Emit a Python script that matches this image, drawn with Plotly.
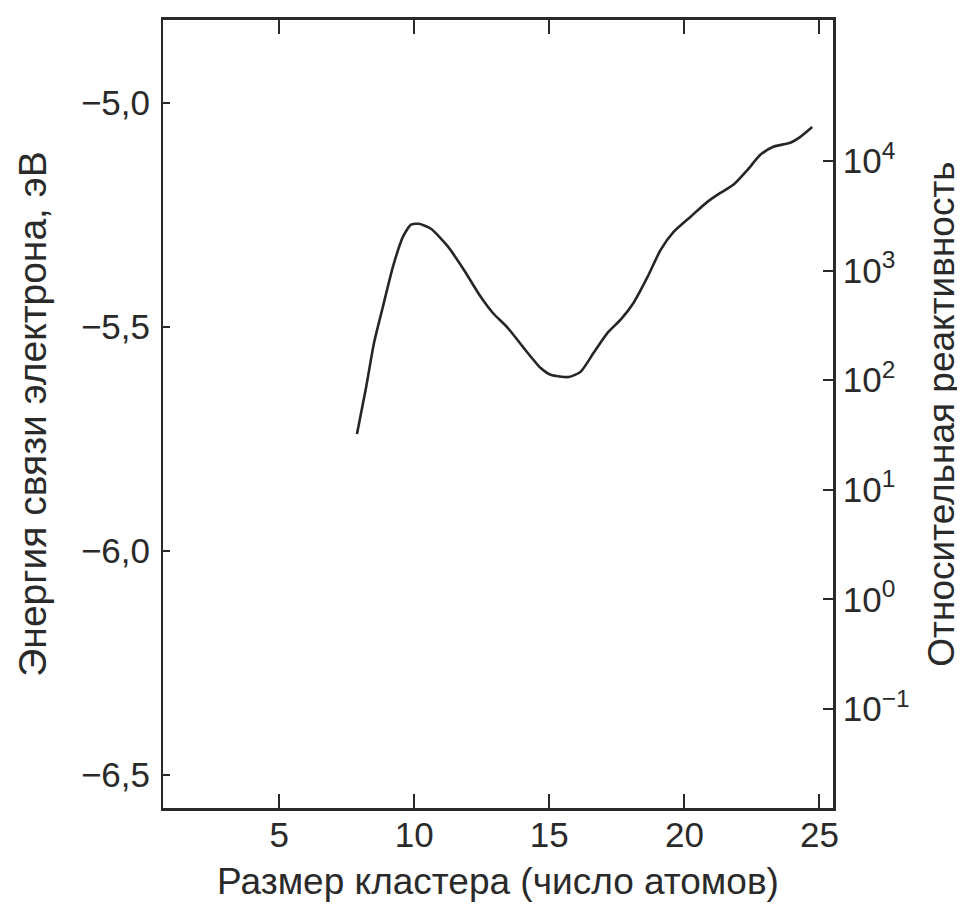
import plotly.graph_objects as go

# Cluster size (number of atoms) and electron binding energy (eV)
cluster_size = [7.88, 8.22, 8.51, 8.84, 9.21, 9.58, 9.88, 10.17, 10.62, 11.25, 11.84,
                12.46, 12.91, 13.46, 14.05, 14.68, 15.05, 15.72, 16.16, 16.64, 17.16,
                17.64, 18.12, 18.64, 19.12, 19.60, 20.23, 20.85, 21.33, 21.81, 22.33,
                22.81, 23.29, 23.92, 24.29, 24.73]
binding_energy = [-5.739, -5.634, -5.536, -5.455, -5.366, -5.299, -5.272, -5.270, -5.281,
                  -5.321, -5.373, -5.433, -5.469, -5.502, -5.547, -5.592, -5.607, -5.612,
                  -5.600, -5.558, -5.513, -5.484, -5.446, -5.388, -5.328, -5.288, -5.254,
                  -5.221, -5.201, -5.183, -5.150, -5.116, -5.098, -5.089, -5.076, -5.054]

x_ticks = [5, 10, 15, 20, 25]
left_ticks = [-5.0, -5.5, -6.0, -6.5]
left_ticktext = ["\u22125,0", "\u22125,5", "\u22126,0", "\u22126,5"]
right_ticks = [0.1, 1, 10, 100, 1000, 10000]
right_ticktext = ["10<sup>\u22121</sup>", "10<sup>0</sup>", "10<sup>1</sup>",
                  "10<sup>2</sup>", "10<sup>3</sup>", "10<sup>4</sup>"]

FONT = "Liberation Sans, Arial, Helvetica, sans-serif"
INK = "#2a2a2a"
TICK_SIZE = 35

fig = go.Figure()
fig.add_trace(go.Scatter(
    x=cluster_size, y=binding_energy, mode="lines",
    line=dict(color="#262626", width=2.6, shape="spline", smoothing=0.6),
    showlegend=False, hoverinfo="skip"))
# empty trace so that the right-hand (log) reactivity axis is drawn
fig.add_trace(go.Scatter(x=[], y=[], yaxis="y2", mode="lines",
                         showlegend=False, hoverinfo="skip"))

fig.update_layout(
    width=965, height=914,
    margin=dict(l=155, r=140, t=12, b=114),
    paper_bgcolor="white", plot_bgcolor="white",
    font=dict(family=FONT, color=INK, size=TICK_SIZE),
    xaxis=dict(
        range=[0.7, 25.5], tickvals=x_ticks, ticktext=[str(v) for v in x_ticks],
        ticks="inside", ticklen=14, tickwidth=2, tickcolor=INK,
        showline=True, linecolor=INK, linewidth=2.5, mirror="ticks",
        showgrid=False, zeroline=False, automargin=False,
        ticklabelstandoff=-6,
        tickfont=dict(size=TICK_SIZE, color=INK),
        title=dict(text="Размер кластера (число атомов)",
                   font=dict(size=37, color=INK), standoff=16),
    ),
    yaxis=dict(
        range=[-6.574, -4.815], tickvals=left_ticks, ticktext=left_ticktext,
        ticks="inside", ticklen=7, tickwidth=1.5, tickcolor=INK,
        showline=True, linecolor=INK, linewidth=2,
        showgrid=False, zeroline=False, automargin=False,
        ticklabelstandoff=4,
        tickfont=dict(size=TICK_SIZE, color=INK),
        title=dict(text="Энергия связи электрона, эВ",
                   font=dict(size=39, color=INK), standoff=22),
    ),
    yaxis2=dict(
        type="log", overlaying="y", side="right", anchor="x",
        range=[-1.903, 5.287], tickvals=right_ticks, ticktext=right_ticktext,
        ticks="inside", ticklen=10, tickwidth=2, tickcolor=INK,
        showline=True, linecolor=INK, linewidth=2.5,
        showgrid=False, zeroline=False, automargin=False,
        tickfont=dict(size=TICK_SIZE, color=INK),
        title=dict(text="Относительная реактивность",
                   font=dict(size=37, color=INK), standoff=20),
    ),
)

fig.write_html("out.html")
